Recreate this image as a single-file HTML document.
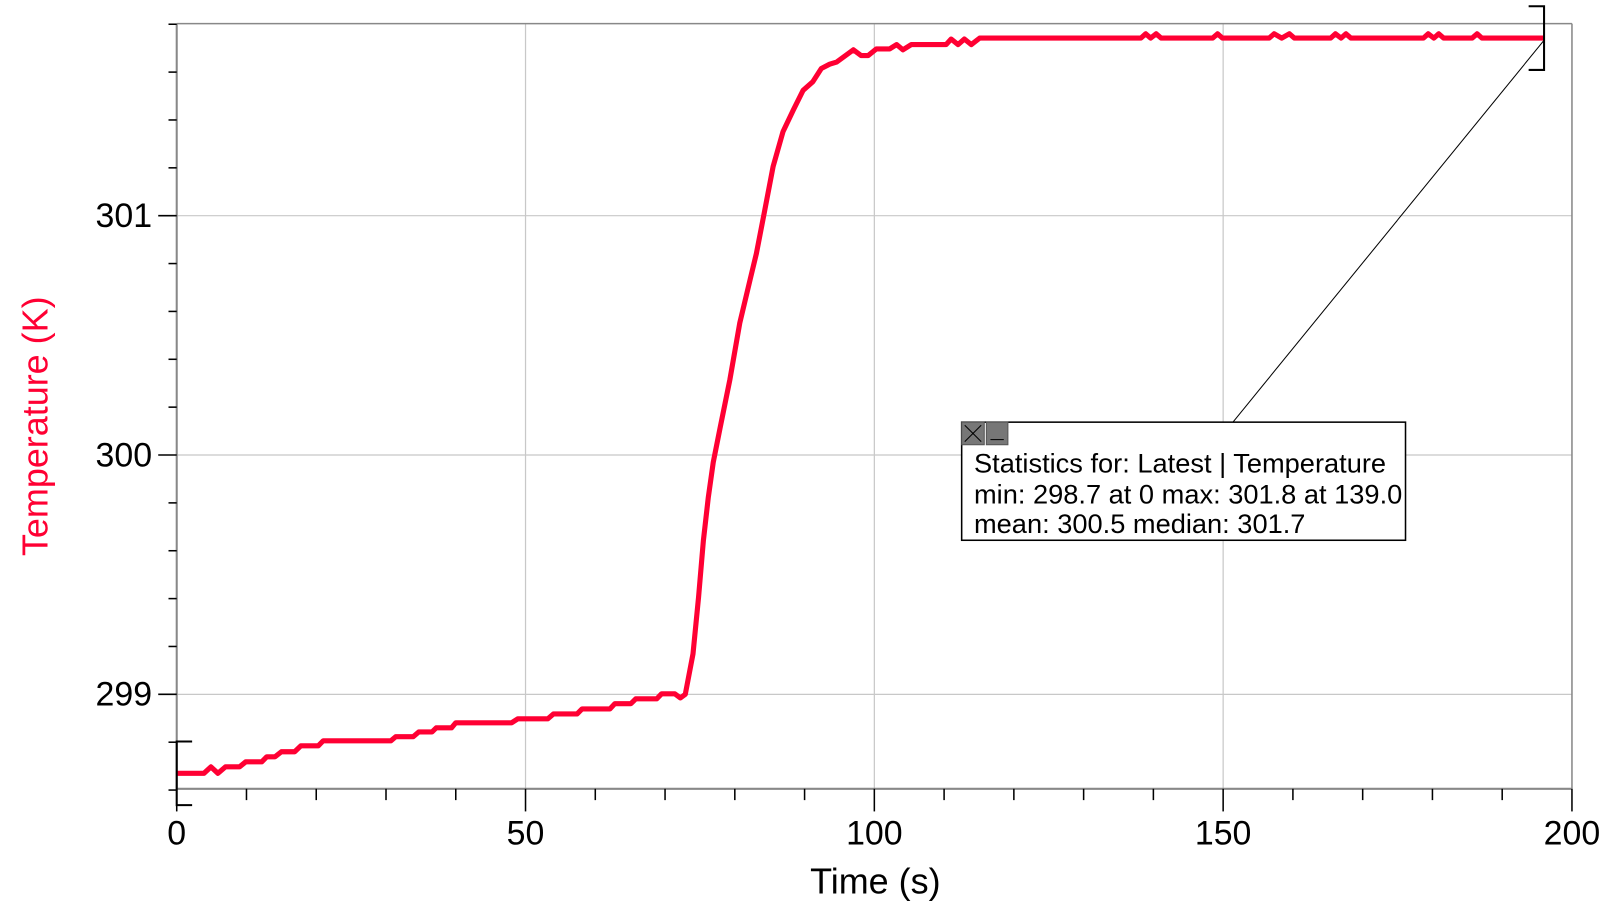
<!DOCTYPE html>
<html><head><meta charset="utf-8"><style>
html,body{margin:0;padding:0;background:#fff;}
svg{display:block;font-family:"Liberation Sans",Arial,sans-serif;}
</style></head><body>
<svg id="chart" width="1611" height="909" viewBox="0 0 1568 885" preserveAspectRatio="none" xmlns="http://www.w3.org/2000/svg">
<g id="grid"></g>
<g id="axes"></g>
<g id="series"></g>
<text x="852" y="870" font-size="35" text-anchor="middle" fill="#000">Time (s)</text>
<text transform="translate(46,415) rotate(-90)" font-size="35" text-anchor="middle" fill="#ff0033">Temperature (K)</text>
<g>
<line x1="1503" y1="39" x2="1200" y2="411" stroke="#000" stroke-width="1"/>
<rect x="936" y="411" width="432" height="115" fill="#fff" stroke="#000" stroke-width="1.5"/>
<rect x="936" y="411" width="22" height="22" fill="#777" stroke="#555"/>
<line x1="939" y1="414" x2="955" y2="430" stroke="#000"/><line x1="955" y1="414" x2="939" y2="430" stroke="#000"/>
<rect x="960" y="411" width="21" height="22" fill="#777" stroke="#555"/>
<line x1="964" y1="428" x2="977" y2="428" stroke="#000"/>
<text x="948" y="460" font-size="26.5">Statistics for: Latest | Temperature</text>
<text x="948" y="490" font-size="26.5">min: 298.7 at 0 max: 301.8 at 139.0</text>
<text x="948" y="519" font-size="26.5">mean: 300.5 median: 301.7</text>
</g>
</svg>
<script>
const times = [0,3.9,4.9,5.9,7.0,9.0,9.9,12.2,12.9,14.1,15.0,16.9,17.8,20.3,21.0,30.7,31.4,33.9,34.7,36.6,37.2,39.4,40.0,48.0,48.9,53.2,54.0,57.4,58.1,62.1,62.8,65.1,65.8,68.8,69.5,71.4,72.2,72.9,
74.0,74.8,75.5,76.2,76.9,77.9,79.3,80.7,82.2,83.1,84.3,85.5,86.9,88.4,89.8,91.2,92.4,93.6,94.6,97.0,98.1,99.1,100.3,102.2,103.2,104.1,105.3,110.3,111.0,112.0,112.9,113.9,115.1,
138.2,138.9,139.6,140.4,141.1,141.8,148.5,149.2,149.9,156.6,157.3,158.4,159.5,160.2,165.4,166.1,166.9,167.6,168.3,178.7,179.4,180.2,180.9,181.6,185.7,186.4,187.1,196.0];
const temps = [298.67,298.67,298.697,298.67,298.697,298.697,298.718,298.718,298.739,298.739,298.76,298.76,298.785,298.785,298.806,298.806,298.823,298.823,298.843,298.843,298.86,298.86,298.881,298.881,298.898,298.898,298.918,298.918,298.939,298.939,298.961,298.961,298.981,298.981,299.002,299.002,298.985,299.0,
299.169,299.405,299.642,299.823,299.969,300.114,300.315,300.551,300.733,300.842,301.024,301.206,301.351,301.442,301.524,301.56,301.615,301.633,301.642,301.693,301.669,301.669,301.697,301.697,301.715,301.693,301.715,301.715,301.738,301.715,301.738,301.715,301.742,
301.742,301.76,301.742,301.76,301.742,301.742,301.742,301.76,301.742,301.742,301.76,301.742,301.76,301.742,301.742,301.76,301.742,301.76,301.742,301.742,301.76,301.742,301.76,301.742,301.742,301.76,301.742,301.742];
const xTicks = [0,50,100,150,200];
const yTicks = [299,300,301];
const xMinor = [10,20,30,40,60,70,80,90,110,120,130,140,160,170,180,190];
const yMinor = [298.6,298.8,299.2,299.4,299.6,299.8,300.2,300.4,300.6,300.8,301.2,301.4,301.6,301.8];

const X0=172, X1=1530, Y0=768, Y1=23;
function sx(t){return X0+(t-0)/(200-0)*(X1-X0);}
function sy(v){return 676-(v-299)*233;}
const NS="http://www.w3.org/2000/svg";
function mk(tag,attrs,parent){const e=document.createElementNS(NS,tag);for(const k in attrs)e.setAttribute(k,attrs[k]);parent.appendChild(e);return e;}
const grid=document.getElementById('grid'), axes=document.getElementById('axes'), series=document.getElementById('series');

xTicks.forEach(t=>{ if(t>0&&t<200){const l=mk('line',{x1:sx(t),x2:sx(t),y1:Y1,y2:Y0,stroke:'#c8c8c8','stroke-width':1.2},grid);

}});
yTicks.forEach(v=>{const l=mk('line',{x1:X0,x2:X1,y1:sy(v),y2:sy(v),stroke:'#c8c8c8','stroke-width':1.2},grid);

});
mk('line',{x1:X0,x2:X1,y1:Y1,y2:Y1,stroke:'#888','stroke-width':1.5},axes);
mk('line',{x1:X1,x2:X1,y1:Y1,y2:Y0,stroke:'#888','stroke-width':1.5},axes);
mk('line',{x1:X0,x2:X1,y1:Y0,y2:Y0,stroke:'#888','stroke-width':2},axes);
mk('line',{x1:X0,x2:X0,y1:Y1,y2:Y0,stroke:'#888','stroke-width':2},axes);

xTicks.forEach(t=>{mk('line',{x1:sx(t),x2:sx(t),y1:Y0,y2:Y0+22,stroke:'#000','stroke-width':1.5},axes);
const tx=mk('text',{x:sx(t),y:822,'font-size':33,'text-anchor':'middle'},axes);tx.textContent=t;

});
xMinor.forEach(t=>{mk('line',{x1:sx(t),x2:sx(t),y1:Y0,y2:Y0+11,stroke:'#000','stroke-width':1.5},axes);});
yTicks.forEach(v=>{mk('line',{x1:X0-18,x2:X0,y1:sy(v),y2:sy(v),stroke:'#000','stroke-width':1.5},axes);
const tx=mk('text',{x:X0-24,y:sy(v)+11,'font-size':33,'text-anchor':'end'},axes);tx.textContent=v;

});
yMinor.forEach(v=>{mk('line',{x1:X0-8,x2:X0,y1:sy(v),y2:sy(v),stroke:'#000','stroke-width':1.5},axes);});

let d='';
times.forEach((t,i)=>{d+=(i?'L':'M')+sx(t).toFixed(1)+','+sy(temps[i]).toFixed(1);});
const p=mk('path',{d:d,fill:'none',stroke:'#ff0033','stroke-width':5,'stroke-linejoin':'round'},series);



const xs=sx(times[0]), xe=sx(times[times.length-1]), ys=sy(temps[0]), ye=sy(temps[temps.length-1]);
const b1=mk('path',{d:`M${xs+15},${ys-31}L${xs},${ys-31}L${xs},${ys+31}L${xs+15},${ys+31}`,fill:'none',stroke:'#000','stroke-width':2},series);


const b2=mk('path',{d:`M${xe-15},${ye-31}L${xe},${ye-31}L${xe},${ye+31}L${xe-15},${ye+31}`,fill:'none',stroke:'#000','stroke-width':2},series);


</script>
</body></html>
